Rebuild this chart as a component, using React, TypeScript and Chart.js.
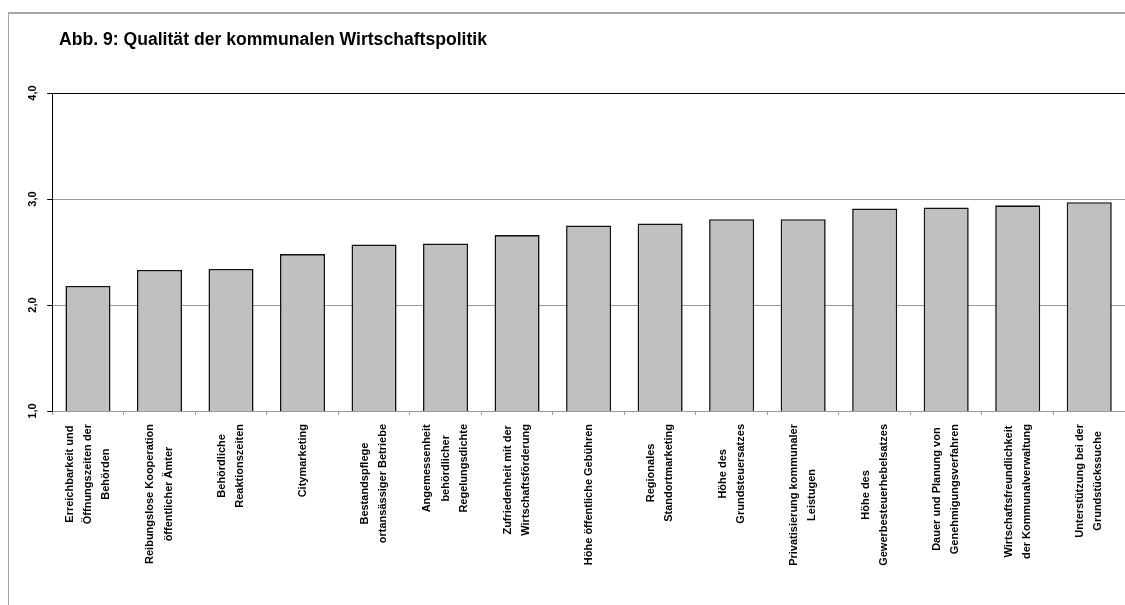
import React, { useEffect, useRef } from 'react';
import { Chart, registerables } from 'chart.js';

Chart.register(...registerables);

const FONT = '"Liberation Sans", Arial, sans-serif';

const chartTitle = 'Abb. 9: Qualität der kommunalen Wirtschaftspolitik';

const categories: string[][] = [
  ['Erreichbarkeit und', 'Öffnungszeiten der', 'Behörden'],
  ['Reibungslose Kooperation', 'öffentlicher Ämter'],
  ['Behördliche', 'Reaktionszeiten'],
  ['Citymarketing'],
  ['Bestandspflege', 'ortansässiger Betriebe'],
  ['Angemessenheit', 'behördlicher', 'Regelungsdichte'],
  ['Zufriedenheit mit der', 'Wirtschaftsförderung'],
  ['Höhe öffentliche Gebühren'],
  ['Regionales', 'Standortmarketing'],
  ['Höhe des', 'Grundsteuersatzes'],
  ['Privatisierung kommunaler', 'Leistugen'],
  ['Höhe des', 'Gewerbesteuerhebelsatzes'],
  ['Dauer und Planung von', 'Genehmigungsverfahren'],
  ['Wirtschaftsfreundlichkeit', 'der Kommunalverwaltung'],
  ['Unterstützung bei der', 'Grundstückssuche'],
];

const values: number[] = [2.18, 2.33, 2.34, 2.48, 2.57, 2.58, 2.66, 2.75, 2.77, 2.81, 2.81, 2.91, 2.92, 2.94, 2.97];

const yTicks: number[] = [1, 2, 3, 4];

const frameAndTitlePlugin = {
  id: 'frameAndTitle',
  beforeDraw(chart: any) {
    const ctx = chart.ctx;
    ctx.save();
    ctx.fillStyle = '#fff';
    ctx.fillRect(0, 0, chart.width, chart.height);
    ctx.fillStyle = '#a6a6a6';
    ctx.fillRect(8, 12, chart.width, 2);
    ctx.fillRect(8, 12, 1, chart.height);
    ctx.fillStyle = '#000';
    ctx.font = `bold 17.6px ${FONT}`;
    ctx.textAlign = 'left';
    ctx.textBaseline = 'alphabetic';
    ctx.fillText(chartTitle, 59, 45);
    ctx.restore();
  },
};

const xLabelPlugin = {
  id: 'xLabels',
  afterDraw(chart: any) {
    const ctx = chart.ctx;
    const xs = chart.scales.x;
    const lineH = 18.3;
    ctx.save();
    ctx.font = `bold 11px ${FONT}`;
    ctx.fillStyle = '#000';
    ctx.textAlign = 'center';
    ctx.textBaseline = 'middle';
    const top = xs.top + 13;
    categories.forEach((lines, i) => {
      const x = xs.getPixelForValue(i);
      const w = Math.max(...lines.map((l) => ctx.measureText(l).width));
      const cy = top + w / 2;
      lines.forEach((line, j) => {
        const dx = (j - (lines.length - 1) / 2) * lineH;
        ctx.save();
        ctx.translate(x + dx, cy);
        ctx.rotate(-Math.PI / 2);
        ctx.fillText(line, 0, 0);
        ctx.restore();
      });
    });
    ctx.restore();
  },
};

export default function App() {
  const ref = useRef<HTMLCanvasElement | null>(null);

  useEffect(() => {
    if (!ref.current) return;
    const chart = new Chart(ref.current, {
      type: 'bar',
      data: {
        labels: categories.map((c) => c.join(' ')),
        datasets: [
          {
            data: values,
            backgroundColor: '#c0c0c0',
            borderColor: '#111',
            borderWidth: 1.6,
            barPercentage: 0.63,
            categoryPercentage: 1,
          },
        ],
      },
      options: {
        animation: false,
        responsive: false,
        devicePixelRatio: 1,
        layout: { padding: { top: 93, left: 20, right: 0, bottom: 190 } },
        plugins: {
          legend: { display: false },
          tooltip: { enabled: false },
          title: { display: false },
        },
        scales: {
          x: {
            offset: true,
            ticks: { display: false },
            grid: { offset: true, drawOnChartArea: false, drawTicks: true, tickLength: 4, color: '#999' },
            border: { color: '#999', width: 1 },
          },
          y: {
            min: 1,
            max: 4,
            afterBuildTicks: (scale: any) => {
              scale.ticks = yTicks.map((v) => ({ value: v }));
            },
            ticks: {
              minRotation: 90,
              maxRotation: 90,
              crossAlign: 'center',
              padding: 7,
              color: '#000',
              font: { family: FONT, size: 11, weight: 'bold' },
              callback: (v: any) => Number(v).toFixed(1).replace('.', ','),
            },
            grid: {
              color: (c: any) => (c.tick && c.tick.value === 4 ? '#000' : '#999'),
              tickColor: '#000',
              tickLength: 5,
              lineWidth: 1,
            },
            border: { color: '#000', width: 1 },
          },
        },
      } as any,
      plugins: [frameAndTitlePlugin, xLabelPlugin],
    });
    return () => chart.destroy();
  }, []);

  return (
    <div style={{ position: 'fixed', left: 0, top: 0, width: 1125, height: 605, overflow: 'hidden', background: '#fff' }}>
      <canvas ref={ref} width={1125} height={605} style={{ display: 'block', width: 1125, height: 605 }} />
    </div>
  );
}
